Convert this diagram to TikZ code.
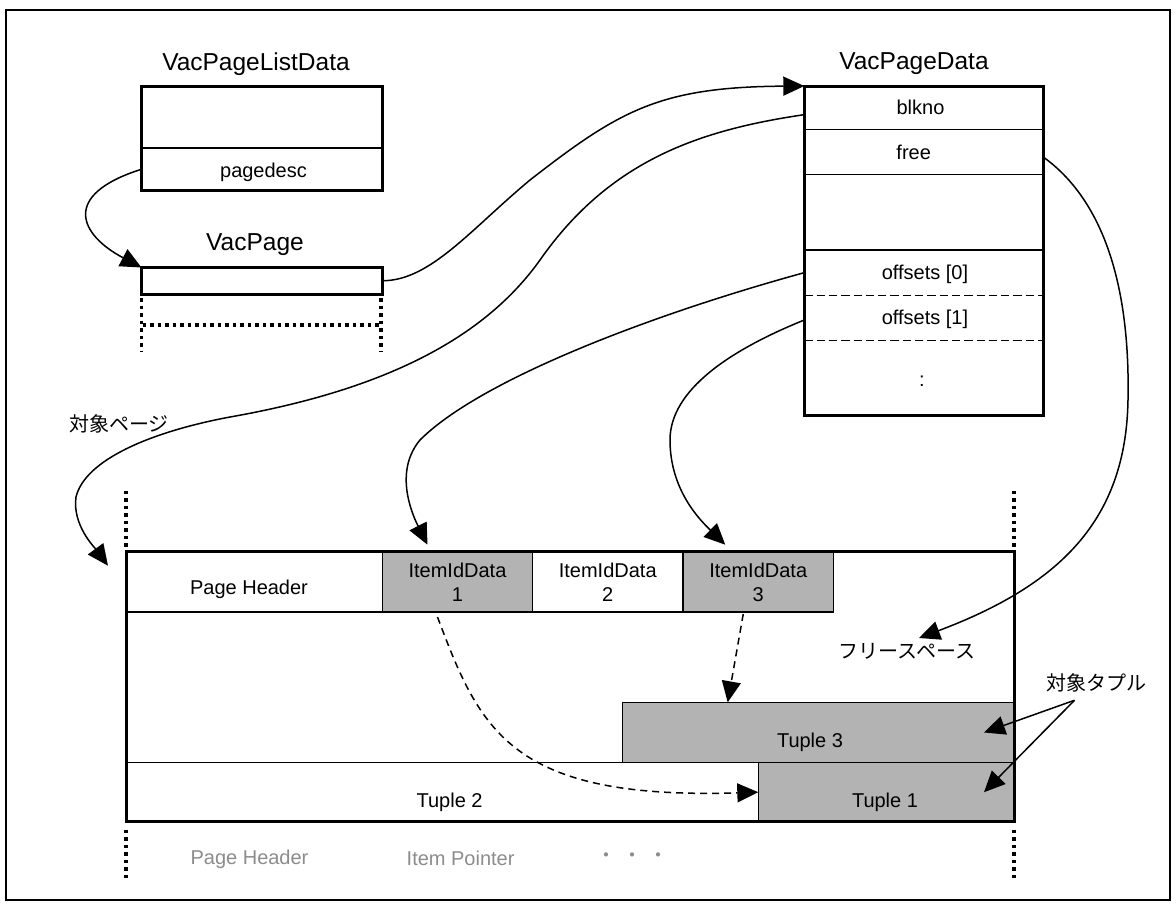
\documentclass[tikz,border=0pt]{standalone}
\usepackage{fontspec}
\setmainfont{Liberation Sans}
\newfontfamily\jp{Noto Sans CJK JP}
\usetikzlibrary{arrows.meta,calc}
\definecolor{cellgray}{RGB}{179,179,179}
\definecolor{lblgray}{RGB}{140,140,140}
\begin{document}
\begin{tikzpicture}[x=1pt,y=-1pt,
  every node/.style={inner sep=0pt, outer sep=0pt},
  corners/.style n args={4}{at={({(#1+#3)/2},{(#2+#4)/2})}, minimum width={(#3-#1)*1pt}, minimum height={(#4-#2)*1pt}},
  thickbox/.style={draw, line width=3pt, rectangle},
  cellbox/.style={draw, line width=1.5pt, rectangle},
  rowbox/.style={rectangle},
  smalltxt/.style={font=\fontsize{20}{24}\selectfont},
  titletxt/.style={font=\fontsize{24.5}{29}\selectfont},
  jtxt/.style={font=\jp\fontsize{20}{24}\selectfont},
  conn/.style={line width=1.5pt, -{Triangle[length=21pt,width=19pt]}},
  dconn/.style={conn, dash pattern=on 7pt off 5pt},
  dotline/.style={line width=3.5pt, dash pattern=on 3.6pt off 3.9pt},
  divline/.style={line width=1.5pt},
  ddivline/.style={line width=1.5pt, dash pattern=on 8.3pt off 4pt},
]
\useasboundingbox (0,0) rectangle (1176,906);
\draw[line width=2pt] (6.3,10) rectangle (1170,900);

% titles
\node[titletxt, anchor=base] (tvpl) at (256,70) {VacPageListData};
\node[titletxt, anchor=base] (tvp) at (255,250) {VacPage};
\node[titletxt, anchor=base] (tvpd) at (914,69) {VacPageData};

% VacPageListData
\node[thickbox, corners={141.5}{86.5}{382}{190.5}] (vpl) {};
\node[rowbox, corners={141.5}{148}{382}{190.5}] (pdrow) {};
\draw[divline] (pdrow.north west) -- (pdrow.north east);
\node[smalltxt, anchor=base] (pagedesc) at (263.5,177) {pagedesc};

% VacPage
\node[thickbox, corners={141.5}{267.5}{382}{294}] (vacpage) {};
\draw[dotline] ($(vacpage.south west)+(0,4)$) -- ++(0,53);
\draw[dotline] ($(vacpage.south east)+(-1,4)$) -- ++(0,53);
\draw[dotline] ($(vacpage.south west)+(1,31)$) -- ($(vacpage.south east)+(-1,31)$);

% VacPageData
\node[thickbox, corners={804.3}{86}{1043}{415}] (vpd) {};
\node[rowbox, corners={804.3}{86}{1043}{129.3}] (bkrow) {};
\node[rowbox, corners={804.3}{129.3}{1043}{174.3}] (frrow) {};
\node[rowbox, corners={804.3}{250}{1043}{295.3}] (o0row) {};
\node[rowbox, corners={804.3}{295.3}{1043}{340.7}] (o1row) {};
\draw[divline] (bkrow.south west) -- (bkrow.south east);
\draw[divline] (frrow.south west) -- (frrow.south east);
\draw[divline] (o0row.north west) -- (o0row.north east);
\draw[ddivline] (o0row.south west) -- (o0row.south east);
\draw[ddivline] (o1row.south west) -- (o1row.south east);
\node[smalltxt, anchor=base] (blkno) at (920.5,114) {blkno};
\node[smalltxt, anchor=base] (free) at (913.7,159) {free};
\node[smalltxt, anchor=base] (off0) at (925,279) {offsets [0]};
\node[smalltxt, anchor=base] (off1) at (925,324) {offsets [1]};
\node[smalltxt, anchor=base] (vdots) at (922,386) {:};

% page
\node[cellbox, corners={126}{551.7}{382.5}{612}] (phcell) {};
\node[cellbox, fill=cellgray, corners={382.5}{551.7}{532.5}{612}, smalltxt, align=center] (item1) {ItemIdData\\1};
\node[cellbox, corners={532.5}{551.7}{683}{612}, smalltxt, align=center] (item2) {ItemIdData\\2};
\node[cellbox, fill=cellgray, corners={683}{551.7}{833.5}{612}, smalltxt, align=center] (item3) {ItemIdData\\3};
\node[cellbox, corners={126}{762.7}{758.3}{821.7}] (tuple2) {};
\node[cellbox, fill=cellgray, corners={622.7}{702.3}{1014}{762.7}] (tuple3) {};
\node[cellbox, fill=cellgray, corners={758.3}{762.7}{1014}{821.7}] (tuple1) {};
\node[thickbox, corners={126}{551.7}{1014}{821.7}] (page) {};

\node[smalltxt, anchor=base] (phtext) at (249,594) {Page Header};
\node[smalltxt, anchor=base] (t3text) at (810,747) {Tuple 3};
\node[smalltxt, anchor=base] (t2text) at (449.6,807) {Tuple 2};
\node[smalltxt, anchor=base] (t1text) at (885,807) {Tuple 1};

\draw[dotline] ($(page.north west)+(0,-61)$) -- ($(page.north west)+(0,-4)$);
\draw[dotline] ($(page.north east)+(0,-61)$) -- ($(page.north east)+(0,-4)$);
\draw[dotline] ($(page.south west)+(0,8)$) -- ($(page.south west)+(0,56)$);
\draw[dotline] ($(page.south east)+(0,8)$) -- ($(page.south east)+(0,56)$);

% gray legend
\node[smalltxt, anchor=base, text=lblgray] (ph2) at (249.5,864) {Page Header};
\node[smalltxt, anchor=base, text=lblgray] (ip) at (460.6,865) {Item Pointer};
\node[text=lblgray, jtxt] (gdots) at (632,858) {・\hspace{6pt}・\hspace{6pt}・};

% Japanese labels
\node[jtxt] (tp) at (119,424) {対象ページ};
\node[jtxt] (fs) at (907,651) {フリースペース};
\node[jtxt] (tt) at (1096.5,683) {対象タプル};

\coordinate (pagetip) at ($(page.north west)+(-18,14)$);

% connectors
\draw[conn] (pdrow.west) .. controls (60,195) and (80,235) .. (vacpage.north west);
\draw[conn] (vacpage.east) .. controls (430,281) and (470,230) .. (530,180) .. controls (620,110) and (660,87) .. (vpd.north west);
\draw[conn] ([yshift=-7pt]bkrow.west) .. controls (700,130) and (610,160) .. (540,260) .. controls (490,330) and (400,387) .. (230,417) .. controls (150,432) and (85,460) .. (76,497) .. controls (72,525) and (95,548) .. (pagetip);
\draw[conn] (o0row.west) .. controls (650,315) and (480,380) .. (420,440) .. controls (395,470) and (410,510) .. ($(item1.north)+(-30,-7)$);
\draw[conn] ([yshift=-2pt]o1row.west) .. controls (730,350) and (670,390) .. (670,440) .. controls (670,490) and (700,520) .. ($(item3.north)+(-33,-7)$);
\draw[conn] ([yshift=-5pt]frrow.east) .. controls (1110,205) and (1130,300) .. (1128,400) .. controls (1126,520) and (1060,585) .. ($(fs.north)+(12,-5)$);
\draw[dconn] ($(item1.south)+(-20,5)$) .. controls (480,730) and (510,800) .. (tuple1.west);
\draw[dconn] ($(item3.south)+(-15,2)$) -- ($(tuple3.north west)+(105,0)$);
\draw[conn] ($(tt.south)+(-22,8)$) -- ($(tuple3.east)+(-30,0)$);
\draw[conn] ($(tt.south)+(-22,8)$) -- ($(tuple1.east)+(-30,0)$);
\end{tikzpicture}
\end{document}
